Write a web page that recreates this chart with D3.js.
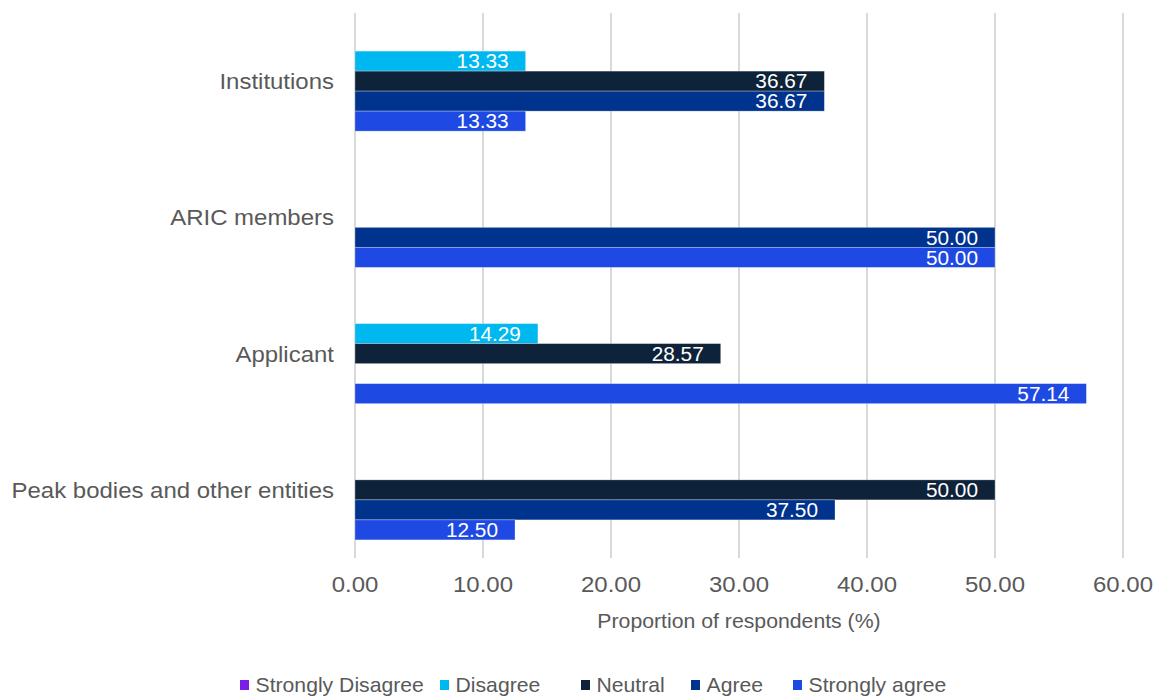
<!DOCTYPE html>
<html><head><meta charset="utf-8">
<script src="https://cdn.jsdelivr.net/npm/d3@7"></script>
<style>body{margin:0;background:#fff;}svg{display:block;font-family:"Liberation Sans",Arial,sans-serif;}</style>
</head><body>
<svg id="chart" width="1157" height="698"></svg>
<script>
const categories = ["Institutions", "ARIC members", "Applicant", "Peak bodies and other entities"];
const seriesNames = ["Strongly Disagree", "Disagree", "Neutral", "Agree", "Strongly agree"];
const seriesColors = ["#7A1FE6", "#00B8F0", "#0E2239", "#00338D", "#1E49E2"];
const stronglyDisagree = [null, null, null, null];
const disagree = [13.33, null, 14.29, null];
const neutral = [36.67, null, 28.57, 50.00];
const agree = [36.67, 50.00, null, 37.50];
const stronglyAgree = [13.33, 50.00, 57.14, 12.50];
const xTicks = [0, 10, 20, 30, 40, 50, 60];
const seriesValues = [stronglyDisagree, disagree, neutral, agree, stronglyAgree];

(function() {
const svg = d3.select("#chart");
const pLeft = 355, pRight = 1123, pTop = 13, pBottom = 558;
const SX = 1.09;
const x = d3.scaleLinear().domain([0, 60]).range([pLeft, pRight]);
const y0 = d3.scaleBand().domain(categories).range([pTop, pBottom]).paddingInner(0.266).paddingOuter(0.133);
const y1 = d3.scaleBand().domain(seriesNames).range([0, y0.bandwidth()]);

function txt(parent, tx, ty, s, sx) {
  return parent.append("text")
    .attr("transform", `translate(${tx},${ty}) scale(${sx},1)`)
    .attr("dy", "0.36em").text(s);
}

svg.append("g").selectAll("line").data(xTicks).join("line")
  .attr("x1", d => x(d)).attr("x2", d => x(d))
  .attr("y1", pTop).attr("y2", pBottom)
  .attr("stroke", "#D9D9D9").attr("stroke-width", 2);

const groups = svg.append("g").selectAll("g").data(categories).join("g")
  .attr("transform", d => `translate(0,${y0(d)})`);
groups.each(function(cat, ci) {
  const g = d3.select(this);
  seriesNames.forEach((s, si) => {
    const v = seriesValues[si][ci];
    if (v == null) return;
    g.append("rect").attr("x", x(0)).attr("y", y1(s))
      .attr("width", x(v) - x(0)).attr("height", y1.bandwidth())
      .attr("fill", seriesColors[si]).attr("stroke", "rgba(255,255,255,0.35)").attr("stroke-width", 0.8);
    txt(g, x(v) - 17, y1(s) + y1.bandwidth() / 2, v.toFixed(2), 1.04)
      .attr("text-anchor", "end").attr("fill", "#fff").attr("font-size", 20);
  });
});

const catG = svg.append("g");
categories.forEach(c => {
  txt(catG, 334, y0(c) + y0.bandwidth() / 2, c, SX)
    .attr("text-anchor", "end").attr("fill", "#595959").attr("font-size", 22);
});

const tickG = svg.append("g");
xTicks.forEach(t => {
  txt(tickG, x(t), 584, t.toFixed(2), SX)
    .attr("text-anchor", "middle").attr("fill", "#595959").attr("font-size", 22);
});

txt(svg, (pLeft + pRight) / 2, 621, "Proportion of respondents (%)", SX)
  .attr("text-anchor", "middle").attr("fill", "#595959").attr("font-size", 19.5);

const legendX = [240, 440, 581, 691, 793];
const lg = svg.append("g").selectAll("g").data(seriesNames).join("g")
  .attr("transform", (d, i) => `translate(${legendX[i]},685)`);
lg.append("rect").attr("x", 0).attr("y", -5).attr("width", 9).attr("height", 10)
  .attr("fill", (d, i) => seriesColors[i]);
lg.each(function(d) {
  txt(d3.select(this), 15.5, 0, d, 1.06).attr("fill", "#595959").attr("font-size", 20);
});
})();
</script>
</body></html>
